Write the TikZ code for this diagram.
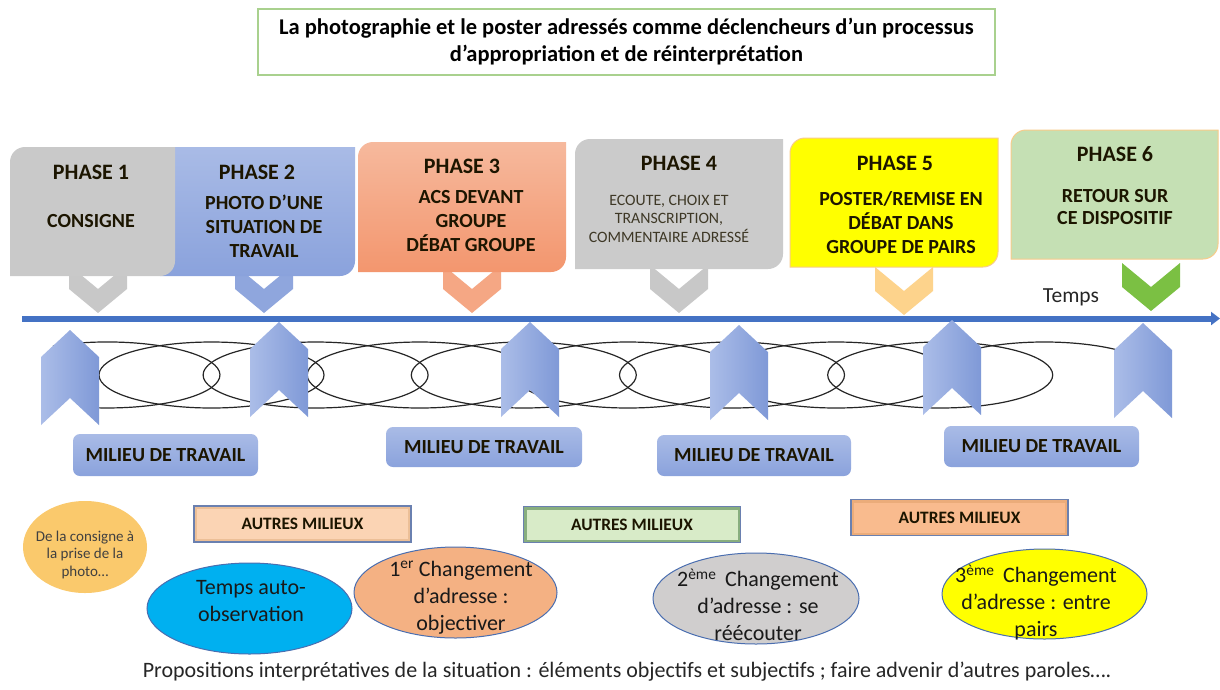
\documentclass[tikz,border=0pt]{standalone}
\usepackage{fontspec}
\setmainfont{Carlito}
\usetikzlibrary{arrows.meta,shapes.geometric}
\definecolor{tl}{HTML}{4472C4}
\definecolor{grayA}{HTML}{C9C9C9}
\definecolor{grayB}{HTML}{CBCBCB}
\definecolor{blueA}{HTML}{A9BBE6}
\definecolor{blueB}{HTML}{8AA2DC}
\definecolor{salA}{HTML}{F6B99D}
\definecolor{salB}{HTML}{F3966E}
\definecolor{yel}{HTML}{FFFF00}
\definecolor{grnsix}{HTML}{C5E0B4}
\definecolor{bordyel}{HTML}{F8CB8A}
\definecolor{chg}{HTML}{C8C8C8}
\definecolor{chb}{HTML}{8FA6DD}
\definecolor{cho}{HTML}{F5A784}
\definecolor{chy}{HTML}{FDD38C}
\definecolor{chgr}{HTML}{7BC043}
\definecolor{txtd}{HTML}{1C1500}
\definecolor{ttlgreen}{HTML}{A9D18E}
\definecolor{peach}{HTML}{FBD4B4}
\definecolor{mint}{HTML}{D8EBC8}
\definecolor{orng}{HTML}{F9BB8E}
\definecolor{bevel}{HTML}{6A80B0}
\definecolor{cyanE}{HTML}{00B0F0}
\definecolor{salE}{HTML}{F4B183}
\definecolor{grayE}{HTML}{D0CECE}
\definecolor{ellB}{HTML}{4A6EB0}
\definecolor{circ}{HTML}{FAC96C}
\definecolor{upA}{HTML}{ABBDE8}
\definecolor{upB}{HTML}{7F99D7}
\newcommand{\myfs}[2]{\fontsize{#1}{#2}\selectfont}
\newcommand{\phbox}[6]{\path[#6] (#1,#2+#5) arc[start angle=180,end angle=270,radius=#5] -- (#3,#2) -- (#3,#4-#5) arc[start angle=0,end angle=90,radius=#5] -- (#1,#4) -- cycle;}
\newcommand{\downchev}[3]{\path[#3] (#1-29,#2) -- (#1,#2+24) -- (#1+29,#2) -- (#1+29,#2+24) -- (#1,#2+48) -- (#1-29,#2+24) -- cycle;}
\newcommand{\upchev}[2]{\path[upch] (#1,#2) -- (#1+29,#2+27) -- (#1+29,#2+95) -- (#1,#2+68) -- (#1-29,#2+95) -- (#1-29,#2+27) -- cycle;}
\begin{document}
\begin{tikzpicture}[x=1pt,y=-1pt,
  phT/.style={font=\myfs{22}{26}\bfseries, text=txtd, inner sep=0, align=center},
  phB/.style={font=\myfs{20}{24}\bfseries, text=txtd, inner sep=0, align=center},
  phS/.style={font=\myfs{15.8}{18.5}, text=txtd!85, inner sep=0, align=center},
  upch/.style={left color=upA, right color=upB},
  coil/.style={draw=black!85, line width=1.2},
  mil/.style={rounded corners=7, top color=blueA, bottom color=blueB, inner sep=0, font=\myfs{20}{22}\bfseries, text=txtd},
  autres/.style={draw=bevel, line width=1.2, inner sep=0, minimum width=217, minimum height=36, font=\myfs{17.4}{20}\bfseries, text=txtd},
  ell/.style={ellipse, draw=ellB, line width=1, inner sep=0},
  ellT/.style={font=\myfs{22}{27}, text=black!90, inner sep=0, align=center}]
\useasboundingbox (0,0) rectangle (1220,689);
\fill[white] (0,0) rectangle (1220,689);
% title
\node[draw=ttlgreen, line width=1.2, minimum width=737, minimum height=66, inner sep=0, align=center, font=\myfs{22.5}{27}\bfseries] (title) at (626.5,42) {La photographie et le poster adressés comme déclencheurs d’un processus\\d’appropriation et de réinterprétation};
% down chevrons
\downchev{98}{265}{fill=chg}
\downchev{264}{265}{fill=chb}
\downchev{472}{265}{fill=cho}
\downchev{679}{265}{fill=chg}
\downchev{904}{267}{fill=chy}
\downchev{1151}{263}{fill=chgr}
% phase boxes
\phbox{160}{147}{355}{276}{15}{top color=blueA, bottom color=blueB}
\phbox{10}{147}{175}{276}{15}{fill=grayA}
\phbox{358}{142}{566}{272}{15}{top color=salA, bottom color=salB}
\phbox{575}{139}{783}{269}{15}{fill=grayB}
\phbox{790}{138}{998}{267}{15}{fill=yel, draw=bordyel, line width=1}
\phbox{1011}{130}{1218}{259}{15}{fill=grnsix, draw=bordyel, line width=1}
% phase texts
\node[phT] (p1t) at (91,172) {PHASE 1};
\node[phB] (p1b) at (91,221) {CONSIGNE};
\node[phT] (p2t) at (257,172) {PHASE 2};
\node[phB] (p2b) at (264,226) {PHOTO D’UNE\\SITUATION DE\\TRAVAIL};
\node[phT] (p3t) at (462,166) {PHASE 3};
\node[phB] (p3b) at (471,221) {ACS DEVANT\\GROUPE\\DÉBAT GROUPE};
\node[phT] (p4t) at (679,163) {PHASE 4};
\node[phS] (p4b) at (669,218.5) {ECOUTE, CHOIX ET\\TRANSCRIPTION,\\COMMENTAIRE ADRESSÉ};
\node[phT] (p5t) at (895,163) {PHASE 5};
\node[phB] (p5b) at (901,223) {POSTER/REMISE EN\\DÉBAT DANS\\GROUPE DE PAIRS};
\node[phT] (p6t) at (1115,154) {PHASE 6};
\node[phB, font=\myfs{20}{22}\bfseries] (p6b) at (1115,207.5) {RETOUR SUR\\CE DISPOSITIF};
% timeline
\coordinate (tl0) at (22,318.5);
\coordinate (tl1) at (1220,318.5);
\draw[tl, line width=6, -{Triangle[length=9,width=13]}] (tl0) -- (tl1);
\node[font=\myfs{21.5}{24}, text=black!85, inner sep=0] (temps) at (1071,297) {Temps};
% coil
\draw[coil] (52.9,346.1) arc[start angle=241, end angle=460, x radius=112.5, y radius=33];
\foreach \k in {0,...,7} \draw[coil] ({211.5+104.1*\k},375) ellipse[x radius=112.5, y radius=33];
\draw[coil] (938.6,363.7) arc[start angle=200, end angle=309, x radius=112.5, y radius=33];
% up chevrons
\upchev{70}{330}
\upchev{279}{322}
\upchev{530}{322}
\upchev{739}{325}
\upchev{952}{320}
\upchev{1143}{323}
% milieu de travail
\node[mil, minimum width=185, minimum height=42] (m1) at (165.5,455) {MILIEU DE TRAVAIL};
\node[mil, minimum width=196, minimum height=40] (m2) at (484,447) {MILIEU DE TRAVAIL};
\node[mil, minimum width=194, minimum height=41] (m3) at (754,455.5) {MILIEU DE TRAVAIL};
\node[mil, minimum width=195, minimum height=41] (m4) at (1041.5,446.5) {MILIEU DE TRAVAIL};
% autres milieux
\node[autres, fill=peach!75!brown, path picture={\fill[peach] ([shift={(3,3)}]path picture bounding box.north west) rectangle ([shift={(-3,-3)}]path picture bounding box.south east);}] (a1) at (302.5,524) {AUTRES MILIEUX};
\node[autres, fill=mint!70!black!90!green, path picture={\fill[mint] ([shift={(3,3)}]path picture bounding box.north west) rectangle ([shift={(-3,-3)}]path picture bounding box.south east);}] (a2) at (632,524.5) {AUTRES MILIEUX};
\node[autres, fill=orng!75!brown, path picture={\fill[orng] ([shift={(3,3)}]path picture bounding box.north west) rectangle ([shift={(-3,-3)}]path picture bounding box.south east);}] (a3) at (959.5,517.5) {AUTRES MILIEUX};
% circle
\node[ellipse, fill=circ, inner sep=0, minimum width=124, minimum height=92] (c0) at (85,547) {};
\node[font=\myfs{15}{17.5}, text=black!75, align=center, inner sep=0] (c0t) at (85,554.5) {De la consigne à\\la prise de la\\photo…};
% ellipses
\node[ell, fill=cyanE, minimum width=205, minimum height=91] (e1) at (249.5,608.5) {};
\node[ellT] (e1t) at (251,601.5) {Temps auto-\\observation};
\node[ell, fill=salE, minimum width=203, minimum height=91] (e2) at (455.5,592.5) {};
\node[ellT] (e2t) at (461,597.5) {1\textsuperscript{er} Changement\\d’adresse :\\objectiver};
\node[ell, fill=grayE, minimum width=206, minimum height=91] (e3) at (756,598.5) {};
\node[ellT] (e3t) at (758,605) {2\textsuperscript{ème}\, Changement\\d’adresse : se\\réécouter};
\node[ell, fill=yel, minimum width=205, minimum height=90] (e4) at (1044.5,594) {};
\node[ellT] (e4t) at (1036,602.5) {3\textsuperscript{ème}\, Changement\\d’adresse : entre\\pairs};
% bottom text
\node[font=\myfs{22}{24}, text=black!85, inner sep=0] (bottom) at (627,672) {Propositions interprétatives de la situation : éléments objectifs et subjectifs ; faire advenir d’autres paroles….};
\end{tikzpicture}
\end{document}
